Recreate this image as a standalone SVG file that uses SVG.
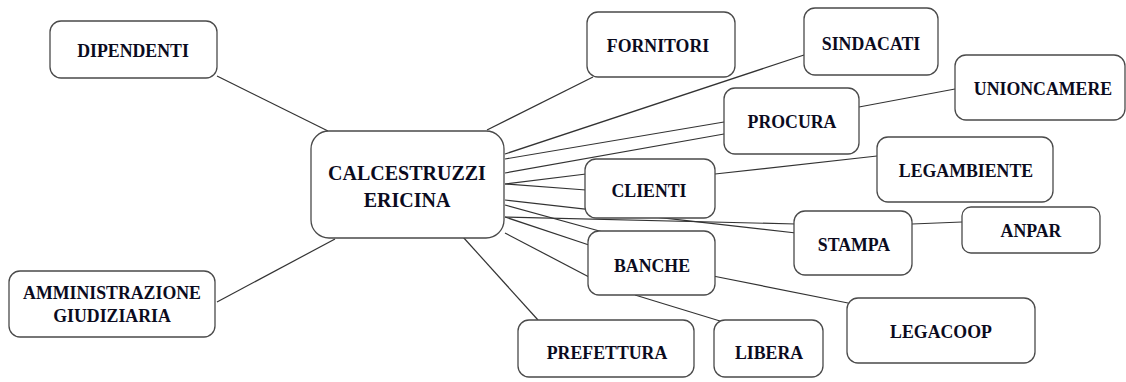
<svg xmlns="http://www.w3.org/2000/svg" width="1126" height="382" viewBox="0 0 1126 382">
<style>
.bg{fill:#ffffff}
.box{fill:#ffffff;stroke:#4a4a4a;stroke-width:1.3}
.lbl{font-family:"Liberation Serif","DejaVu Serif",serif;font-weight:bold;font-size:17.8px;fill:#0b0b1e;text-anchor:middle}
.big{font-size:20px}
.conn line{stroke:#333333;stroke-width:1.2}
</style>
<rect class="bg" x="0" y="0" width="1126" height="382"/>
<g id="connectors" class="conn">
<line x1="217" y1="76" x2="328" y2="131"/>
<line x1="217" y1="302" x2="335" y2="239"/>
<line x1="593" y1="77" x2="487" y2="130"/>
<line x1="804" y1="55" x2="505" y2="154"/>
<line x1="505" y1="159" x2="724" y2="122"/>
<line x1="505" y1="173" x2="724" y2="134"/>
<line x1="505" y1="184" x2="586" y2="174"/>
<line x1="505" y1="184" x2="586" y2="190"/>
<line x1="505" y1="200" x2="796" y2="233"/>
<line x1="505" y1="205" x2="603" y2="232"/>
<line x1="505" y1="217" x2="796" y2="224"/>
<line x1="505" y1="217" x2="589" y2="245"/>
<line x1="505" y1="233" x2="589" y2="277"/>
<line x1="463" y1="237" x2="538" y2="320"/>
<line x1="859" y1="107" x2="955" y2="89"/>
<line x1="715" y1="174" x2="877" y2="156"/>
<line x1="912" y1="224" x2="962" y2="222"/>
<line x1="713" y1="276" x2="848" y2="303"/>
<line x1="635" y1="295" x2="720" y2="321"/>
</g>
<g id="dipendenti"><rect class="box" x="50" y="21" width="167" height="57" rx="11"/><text class="lbl" x="133" y="57">DIPENDENTI</text></g>
<g id="calcestruzzi"><rect class="box" x="311" y="131" width="193" height="107" rx="18"/><text class="lbl big" x="407" y="180">CALCESTRUZZI</text><text class="lbl big" x="407" y="207">ERICINA</text></g>
<g id="fornitori"><rect class="box" x="587" y="12" width="148" height="65" rx="11"/><text class="lbl" x="658" y="52">FORNITORI</text></g>
<g id="sindacati"><rect class="box" x="804" y="8" width="134" height="67" rx="11"/><text class="lbl" x="871" y="50">SINDACATI</text></g>
<g id="procura"><rect class="box" x="724" y="88" width="135" height="66" rx="11"/><text class="lbl" x="792" y="128">PROCURA</text></g>
<g id="unioncamere"><rect class="box" x="955" y="55" width="170" height="65" rx="11"/><text class="lbl" x="1043" y="95">UNIONCAMERE</text></g>
<g id="clienti"><rect class="box" x="585" y="159" width="130" height="59" rx="11"/><text class="lbl" x="649" y="197">CLIENTI</text></g>
<g id="legambiente"><rect class="box" x="877" y="137" width="176" height="65" rx="11"/><text class="lbl" x="966" y="177">LEGAMBIENTE</text></g>
<g id="stampa"><rect class="box" x="794" y="211" width="118" height="64" rx="11"/><text class="lbl" x="854" y="251">STAMPA</text></g>
<g id="anpar"><rect class="box" x="962" y="207" width="138" height="46" rx="9"/><text class="lbl" x="1031" y="237">ANPAR</text></g>
<g id="banche"><rect class="box" x="588" y="231" width="127" height="64" rx="11"/><text class="lbl" x="652" y="272">BANCHE</text></g>
<g id="legacoop"><rect class="box" x="847" y="298" width="188" height="65" rx="11"/><text class="lbl" x="941" y="338">LEGACOOP</text></g>
<g id="prefettura"><rect class="box" x="518" y="320" width="176" height="57" rx="11"/><text class="lbl" x="607" y="359">PREFETTURA</text></g>
<g id="libera"><rect class="box" x="714" y="320" width="109" height="57" rx="11"/><text class="lbl" x="769" y="359">LIBERA</text></g>
<g id="amministrazione"><rect class="box" x="9" y="271" width="206" height="66" rx="11"/><text class="lbl" x="112" y="299">AMMINISTRAZIONE</text><text class="lbl" x="112" y="322">GIUDIZIARIA</text></g>
</svg>
